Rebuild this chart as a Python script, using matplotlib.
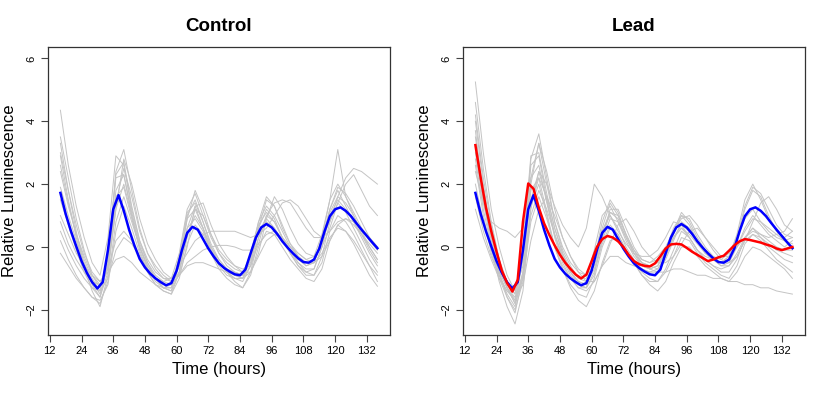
import matplotlib
matplotlib.use("Agg")
import matplotlib.pyplot as plt

plt.rcParams["font.family"] = ["Liberation Sans", "DejaVu Sans"]

# sampling grids (hours)
hours_gray = list(range(16, 137, 3))
hours_mean = list(range(16, 137, 2))

# mean traces
control_mean = [1.72, 1.05, 0.50, 0.02, -0.45, -0.82, -1.12, -1.32, -1.12, -0.10,
                1.20, 1.65, 1.15, 0.55, 0.05, -0.38, -0.65, -0.85, -1.00, -1.12,
                -1.22, -1.15, -0.75, -0.10, 0.45, 0.64, 0.55, 0.25, -0.05, -0.30,
                -0.52, -0.67, -0.78, -0.87, -0.90, -0.72, -0.20, 0.30, 0.62, 0.73,
                0.62, 0.42, 0.18, -0.02, -0.20, -0.36, -0.48, -0.50, -0.40, -0.05,
                0.50, 0.98, 1.20, 1.26, 1.15, 0.98, 0.76, 0.55, 0.35, 0.15, -0.04]
lead_mean = [3.24, 2.20, 1.25, 0.50, -0.15, -0.75, -1.15, -1.42, -1.05, 0.80,
             2.02, 1.85, 1.25, 0.75, 0.38, 0.05, -0.25, -0.50, -0.70, -0.88,
             -1.00, -0.88, -0.45, 0.00, 0.25, 0.35, 0.30, 0.18, 0.00, -0.25,
             -0.45, -0.55, -0.60, -0.62, -0.52, -0.30, -0.05, 0.08, 0.10, 0.08,
             -0.03, -0.15, -0.25, -0.35, -0.45, -0.40, -0.33, -0.28, -0.12, 0.05,
             0.18, 0.25, 0.22, 0.18, 0.14, 0.08, 0.03, -0.05, -0.10, -0.05, 0.00]

# individual control traces
control_traces = [
    [4.35, 2.6, 1.3, 0.3, -0.5, -0.9, 0.3, 2.9, 2.6, 1.2,
     0.2, -0.4, -0.8, -1.0, -1.0, -0.2, 1.2, 1.7, 1.0, 0.3,
     -0.2, -0.5, -0.7, -0.8, -0.3, 0.8, 1.6, 1.3, 0.6, 0.1,
     -0.2, -0.4, -0.3, 0.4, 1.5, 2.0, 1.6, 1.1, 0.6, 0.2, -0.1],
    [3.5, 2.2, 0.9, -0.1, -0.9, -1.3, -0.4, 2.4, 3.1, 1.8,
     0.6, -0.2, -0.7, -1.0, -1.1, -0.6, 0.9, 1.8, 1.2, 0.4,
     -0.2, -0.6, -0.8, -0.9, -0.5, 0.6, 1.5, 1.3, 0.7, 0.1,
     -0.3, -0.6, -0.5, 0.2, 1.2, 1.9, 1.7, 1.3, 0.8, 0.3, 0.0],
    [3.3, 1.8, 0.5, -0.6, -1.4, -1.9, -0.9, 1.8, 2.3, 1.0,
     -0.1, -0.8, -1.2, -1.4, -1.5, -0.8, 0.6, 1.3, 0.6, -0.2,
     -0.7, -1.0, -1.2, -1.3, -0.8, 0.3, 1.0, 0.8, 0.3, -0.2,
     -0.6, -0.9, -0.9, -0.3, 0.8, 1.4, 1.1, 0.6, 0.1, -0.4, -0.8],
    [2.9, 1.5, 0.3, -0.6, -1.2, -1.6, -0.5, 2.3, 2.7, 1.3,
     0.2, -0.5, -1.0, -1.3, -1.4, -0.5, 1.0, 1.5, 0.8, 0.0,
     -0.5, -0.8, -1.0, -1.1, -0.6, 0.6, 1.2, 0.9, 0.3, -0.2,
     -0.6, -0.8, -0.7, 0.0, 1.1, 1.6, 1.4, 1.0, 0.5, 0.0, -0.4],
    [1.9, 1.0, 0.2, -0.5, -1.1, -1.5, -0.6, 1.6, 1.9, 0.9,
     0.0, -0.6, -1.0, -1.3, -1.3, -0.6, 0.6, 0.9, 0.5, -0.1,
     -0.5, -0.8, -1.0, -1.0, -0.4, 0.5, 0.9, 0.6, 0.2, -0.1,
     -0.4, -0.6, -0.5, 0.3, 1.5, 3.1, 1.6, 1.0, 0.4, -0.1, -0.5],
    [1.0, 0.4, -0.2, -0.6, -0.9, -1.1, -0.8, -0.4, -0.3, -0.5,
     -0.8, -1.0, -1.2, -1.3, -1.2, -0.9, -0.6, -0.5, -0.5, -0.6,
     -0.7, -0.8, -0.9, -1.0, -0.8, -0.3, 0.2, 0.4, 0.3, 0.0,
     -0.3, -0.5, -0.5, -0.2, 0.3, 0.6, 0.5, 0.2, -0.2, -0.6, -0.9],
    [0.8, 0.1, -0.4, -0.8, -1.1, -1.2, -0.7, 0.2, 0.5, 0.2,
     -0.3, -0.7, -1.0, -1.1, -1.0, -0.6, -0.2, 0.2, 0.4, 0.5,
     0.5, 0.5, 0.5, 0.4, 0.3, 0.4, 0.6, 1.0, 1.4, 1.5,
     1.3, 0.9, 0.5, 0.3, 0.5, 0.8, 0.9, 0.8, 0.6, 0.3, 0.0],
    [0.5, -0.1, -0.6, -1.0, -1.3, -1.4, -1.0, -0.1, 0.3, 0.1,
     -0.3, -0.7, -1.0, -1.2, -1.2, -0.9, -0.5, -0.3, -0.1, 0.0,
     0.05, 0.05, 0.0, -0.1, -0.1, 0.1, 0.4, 0.5, 0.3, 0.0,
     -0.2, -0.4, -0.5, -0.3, 0.2, 0.7, 0.9, 0.7, 0.4, 0.0, -0.4],
    [0.2, -0.4, -0.9, -1.3, -1.6, -1.8, -1.1, 0.8, 1.6, 0.8,
     0.0, -0.6, -1.0, -1.3, -1.4, -0.8, 0.4, 1.0, 0.6, 0.0,
     -0.4, -0.7, -0.9, -1.0, -0.6, 0.3, 0.8, 0.6, 0.2, -0.2,
     -0.5, -0.8, -0.9, -0.5, 0.5, 1.0, 0.8, 0.4, -0.1, -0.6, -1.1],
    [-0.2, -0.6, -1.0, -1.3, -1.6, -1.7, -1.2, 0.5, 1.3, 0.6,
     -0.2, -0.8, -1.2, -1.4, -1.5, -1.0, 0.1, 0.7, 0.4, -0.1,
     -0.5, -0.8, -1.1, -1.3, -0.9, 0.0, 0.5, 0.4, 0.0, -0.4,
     -0.7, -1.0, -1.1, -0.7, 0.2, 0.7, 0.5, 0.1, -0.4, -0.9, -1.25],
    [2.4, 1.3, 0.4, -0.3, -0.9, -1.2, -0.6, 1.4, 2.5, 1.6,
     0.5, -0.2, -0.6, -0.9, -1.1, -0.8, 0.3, 1.2, 1.0, 0.4,
     -0.1, -0.4, -0.6, -0.7, -0.6, 0.1, 1.0, 1.4, 1.5, 1.4,
     1.0, 0.6, 0.3, 0.3, 0.8, 1.6, 2.2, 2.5, 2.4, 2.2, 2.0],
    [3.0, 1.8, 0.7, -0.2, -0.8, -1.1, -0.7, 1.2, 2.8, 2.0,
     0.9, 0.1, -0.4, -0.8, -1.0, -0.9, 0.0, 1.3, 1.4, 0.7,
     0.1, -0.3, -0.6, -0.8, -0.8, -0.2, 0.9, 1.6, 1.2, 0.6,
     0.1, -0.2, -0.3, 0.0, 0.6, 1.4, 2.0, 2.3, 1.8, 1.3, 1.0],
    [1.5, 0.7, -0.1, -0.8, -1.3, -1.6, -0.8, 1.2, 2.0, 1.0,
     0.0, -0.7, -1.1, -1.3, -1.3, -0.4, 0.9, 1.2, 0.6, -0.1,
     -0.6, -0.9, -1.0, -1.0, -0.3, 0.7, 1.1, 0.8, 0.3, -0.1,
     -0.5, -0.7, -0.7, 0.0, 1.0, 1.5, 1.2, 0.8, 0.3, -0.2, -0.6],
    [2.6, 1.4, 0.4, -0.4, -1.0, -1.4, -0.2, 2.2, 2.3, 1.1,
     0.1, -0.5, -0.9, -1.1, -1.2, -0.3, 1.1, 1.4, 0.8, 0.1,
     -0.4, -0.7, -0.8, -0.9, -0.2, 0.8, 1.3, 1.0, 0.5, 0.0,
     -0.3, -0.5, -0.5, 0.2, 1.2, 1.8, 1.3, 0.8, 0.4, 0.1, -0.2],
]

# individual lead traces
lead_traces = [
    [5.25, 3.0, 1.2, 0.0, -0.9, -1.4, -0.6, 2.2, 3.3, 2.0,
     0.8, 0.0, -0.5, -0.8, -0.9, -0.3, 0.5, 1.1, 0.9, 0.3,
     -0.2, -0.5, -0.6, -0.7, -0.3, 0.3, 0.7, 0.5, 0.2, -0.1,
     -0.3, -0.4, -0.2, 0.3, 0.9, 1.2, 0.8, 0.5, 0.3, 0.2, 0.3],
    [4.6, 2.5, 0.8, -0.4, -1.3, -1.8, -0.4, 2.8, 3.6, 2.2,
     0.8, -0.1, -0.6, -1.0, -1.1, -0.4, 0.6, 1.4, 1.0, 0.4,
     -0.1, -0.5, -0.7, -0.8, -0.4, 0.2, 0.8, 0.6, 0.2, -0.2,
     -0.4, -0.6, -0.5, 0.0, 0.6, 1.0, 0.7, 0.4, 0.2, 0.0, 0.2],
    [4.0, 2.0, 0.4, -0.8, -1.6, -2.1, -0.9, 2.0, 3.3, 2.4,
     1.2, 0.3, -0.3, -0.7, -0.9, -0.6, 0.3, 1.2, 1.2, 0.6,
     0.0, -0.4, -0.5, -0.4, -0.1, 0.4, 1.0, 0.9, 0.4, 0.0,
     -0.3, -0.5, -0.4, 0.2, 1.2, 1.8, 1.6, 1.0, 0.5, 0.2, 0.0],
    [3.7, 1.6, 0.0, -1.1, -1.9, -2.45, -1.4, 1.2, 2.4, 1.5,
     0.4, -0.4, -0.9, -1.2, -1.3, -0.8, 0.1, 0.7, 0.4, -0.1,
     -0.5, -0.8, -1.0, -1.1, -0.8, -0.3, 0.3, 0.2, -0.2, -0.5,
     -0.7, -0.9, -1.0, -0.6, 0.1, 0.4, 0.2, -0.1, -0.4, -0.6, -0.8],
    [3.2, 1.5, 0.2, -0.7, -1.3, -1.7, -0.2, 2.6, 2.9, 1.5,
     0.3, -0.5, -1.0, -1.3, -1.3, -0.4, 0.8, 1.5, 1.1, 0.4,
     -0.2, -0.6, -0.7, -0.6, -0.2, 0.5, 1.1, 0.8, 0.3, -0.1,
     -0.4, -0.5, -0.3, 0.3, 1.3, 1.9, 1.7, 1.2, 0.7, 0.4, 0.3],
    [2.8, 1.2, 0.0, -0.9, -1.5, -1.9, -0.8, 1.8, 2.2, 1.1,
     0.0, -0.7, -1.2, -1.5, -1.6, -1.0, 0.0, 0.6, 0.4, -0.1,
     -0.5, -0.9, -1.1, -1.1, -0.7, -0.1, 0.5, 0.3, -0.1, -0.4,
     -0.6, -0.8, -0.8, -0.4, 0.3, 0.6, 0.3, 0.0, -0.2, -0.4, -0.5],
    [2.4, 1.4, 0.8, 0.6, 0.5, 0.3, 0.6, 1.5, 2.4, 2.0,
     1.3, 0.7, 0.3, 0.0, 0.6, 2.0, 1.6, 1.0, 0.5, 0.1,
     -0.2, -0.3, -0.3, -0.1, 0.3, 0.8, 0.7, 0.3, -0.1, -0.3,
     -0.4, -0.3, -0.2, 0.0, 0.3, 0.5, 0.4, 0.3, 0.4, 0.5, 0.9],
    [2.0, 0.8, -0.1, -0.8, -1.3, -1.6, -1.0, 0.8, 1.6, 0.9,
     0.0, -0.6, -1.0, -1.3, -1.4, -1.1, -0.6, -0.3, -0.3, -0.5,
     -0.6, -0.7, -0.8, -0.8, -0.8, -0.7, -0.7, -0.8, -0.9, -0.9,
     -1.0, -1.0, -1.1, -1.1, -1.2, -1.2, -1.3, -1.3, -1.4, -1.45, -1.5],
    [1.6, 0.5, -0.3, -0.9, -1.4, -1.7, -0.8, 1.0, 1.8, 1.2,
     0.4, -0.3, -0.8, -1.1, -1.2, -0.7, 0.2, 0.9, 0.8, 0.3,
     -0.2, -0.5, -0.6, -0.5, -0.2, 0.3, 0.6, 0.4, 0.1, -0.2,
     -0.4, -0.6, -0.6, -0.3, 0.2, 0.4, 0.3, 0.1, -0.1, -0.2, -0.3],
    [1.2, 0.3, -0.4, -1.0, -1.4, -1.6, -1.2, 0.2, 1.2, 1.6,
     1.0, 0.3, -0.3, -0.8, -1.1, -1.1, -0.6, 0.1, 0.7, 0.9,
     0.5, 0.0, -0.3, -0.5, -0.5, -0.3, 0.1, 0.5, 0.6, 0.3,
     -0.1, -0.4, -0.5, -0.3, 0.2, 0.8, 1.4, 1.6, 1.2, 0.7, 0.5],
    [3.0, 1.4, 0.3, -0.6, -1.2, -1.5, -0.3, 2.2, 2.6, 1.4,
     0.4, -0.3, -0.8, -1.1, -1.2, -0.5, 0.5, 1.0, 0.6, 0.0,
     -0.4, -0.7, -0.8, -0.7, -0.3, 0.3, 0.6, 0.3, -0.1, -0.4,
     -0.6, -0.7, -0.6, -0.2, 0.3, 0.6, 0.4, 0.2, 0.0, -0.1, -0.1],
    [3.5, 1.7, 0.4, -0.6, -1.3, -1.8, -1.0, 1.3, 2.0, 1.0,
     0.0, -0.7, -1.3, -1.7, -1.9, -1.4, -0.5, 0.2, 0.3, -0.1,
     -0.5, -0.9, -1.2, -1.4, -1.1, -0.5, 0.0, 0.0, -0.3, -0.6,
     -0.8, -1.0, -1.1, -0.8, -0.3, 0.0, -0.1, -0.3, -0.5, -0.7, -1.0],
    [4.2, 2.2, 0.7, -0.4, -1.1, -1.5, 0.0, 2.9, 3.0, 1.7,
     0.6, -0.2, -0.7, -1.0, -1.0, -0.1, 1.0, 1.3, 0.8, 0.2,
     -0.3, -0.6, -0.7, -0.6, -0.1, 0.6, 1.0, 0.7, 0.2, -0.2,
     -0.4, -0.5, -0.3, 0.4, 1.5, 2.0, 1.5, 0.9, 0.5, 0.3, 0.5],
    [2.6, 1.0, -0.2, -1.0, -1.6, -2.0, -1.1, 1.3, 2.2, 1.6,
     0.6, -0.2, -0.8, -1.2, -1.3, -0.9, 0.3, 1.1, 1.0, 0.4,
     -0.1, -0.4, -0.5, -0.3, 0.0, 0.5, 0.9, 1.0, 0.7, 0.3,
     0.0, -0.3, -0.3, 0.0, 0.5, 0.9, 0.8, 0.6, 0.4, 0.2, 0.1],
]

x_ticks = [12, 24, 36, 48, 60, 72, 84, 96, 108, 120, 132]
y_ticks = [-2, 0, 2, 4, 6]

fig = plt.figure(figsize=(8.3, 3.95), dpi=100)
ax_c = fig.add_axes([0.0575, 0.152, 0.4125, 0.728])
ax_l = fig.add_axes([0.5575, 0.152, 0.4125, 0.728])


def style_axis(ax, title):
    ax.set_xlim(11.2, 140.8)
    ax.set_ylim(-2.8, 6.35)
    ax.set_xticks(x_ticks)
    ax.set_yticks(y_ticks)
    ax.tick_params(labelsize=8, length=5, width=0.8, color="#444444", pad=3)
    for lbl in ax.get_yticklabels():
        lbl.set_rotation(90)
        lbl.set_va("center")
    for s in ax.spines.values():
        s.set_color("#333333")
        s.set_linewidth(0.9)
    ax.set_title(title, fontsize=13.5, fontweight="bold", pad=12)
    ax.set_xlabel("Time (hours)", fontsize=12, labelpad=4)
    ax.set_ylabel("Relative Luminescence", fontsize=12, labelpad=7)


for tr in control_traces:
    ax_c.plot(hours_gray, tr, color="#c4c4c4", lw=0.7)
ax_c.plot(hours_mean, control_mean, color="#0000ff", lw=1.8)
style_axis(ax_c, "Control")

for tr in lead_traces:
    ax_l.plot(hours_gray, tr, color="#c4c4c4", lw=0.7)
ax_l.plot(hours_mean, control_mean, color="#0000ff", lw=1.8)
ax_l.plot(hours_mean, lead_mean, color="#ff0000", lw=1.8)
style_axis(ax_l, "Lead")

fig.savefig("out.png", dpi=100)
